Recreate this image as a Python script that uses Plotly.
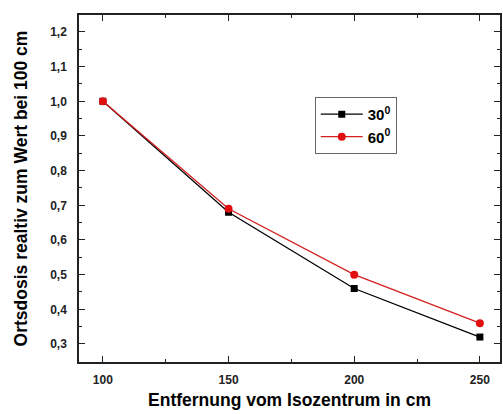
import plotly.graph_objects as go

x_vals = [100, 150, 200, 250]
y_30 = [1.0, 0.68, 0.46, 0.32]
y_60 = [1.0, 0.69, 0.50, 0.36]
name_30 = "30<sup>0</sup>"
name_60 = "60<sup>0</sup>"
y_ticks = [0.3, 0.4, 0.5, 0.6, 0.7, 0.8, 0.9, 1.0, 1.1, 1.2]
y_ticktext = [f"{v:.1f}".replace(".", ",") for v in y_ticks]
x_ticks = [100, 150, 200, 250]

fig = go.Figure()
fig.add_trace(go.Scatter(x=x_vals, y=y_30, name=name_30, mode="lines+markers",
                         line=dict(color="black", width=1.3),
                         marker=dict(symbol="square", size=7, color="black")))
fig.add_trace(go.Scatter(x=x_vals, y=y_60, name=name_60, mode="lines+markers",
                         line=dict(color="#d42020", width=1.3),
                         marker=dict(symbol="circle", size=8, color="#e01010")))

fnt = "Liberation Sans, Arial, sans-serif"
fig.update_layout(
    width=503, height=414,
    margin=dict(l=79, r=1, t=15, b=52),
    paper_bgcolor="white", plot_bgcolor="white",
    font=dict(family=fnt, color="#222"),
    showlegend=True,
    legend=dict(x=0.56, y=0.764, xanchor="left", yanchor="top",
                bordercolor="#666", borderwidth=1, bgcolor="white",
                font=dict(size=15, family=fnt, color="black", weight="bold"),
                itemwidth=42, tracegroupgap=2),
)
fig.update_xaxes(
    range=[90.5, 258], tickvals=x_ticks,
    ticks="inside", ticklen=6, tickwidth=1.2, tickcolor="#222",
    showline=True, linecolor="#222", linewidth=1.5, mirror="ticks",
    showgrid=False, zeroline=False,
    minor=dict(dtick=25, tick0=0, ticks="inside", ticklen=3, tickcolor="#222", showgrid=False),
    tickfont=dict(size=12, family=fnt, weight="bold"),
    ticklabelstandoff=6,
    title=dict(text="Entfernung vom Isozentrum in cm", font=dict(size=17.5, family=fnt, weight="bold", color="black"), standoff=8),
)
fig.update_yaxes(
    range=[0.248, 1.249], tickvals=y_ticks, ticktext=y_ticktext,
    ticks="inside", ticklen=6, tickwidth=1.2, tickcolor="#222",
    showline=True, linecolor="#222", linewidth=1.5, mirror="ticks",
    showgrid=False, zeroline=False,
    minor=dict(dtick=0.05, tick0=0, ticks="inside", ticklen=3, tickcolor="#222", showgrid=False),
    tickfont=dict(size=12, family=fnt, weight="bold"),
    ticklabelstandoff=8,
    title=dict(text="Ortsdosis realtiv zum Wert bei 100 cm", font=dict(size=17.5, family=fnt, weight="bold", color="black"), standoff=18),
)
fig.write_html("out.html")
